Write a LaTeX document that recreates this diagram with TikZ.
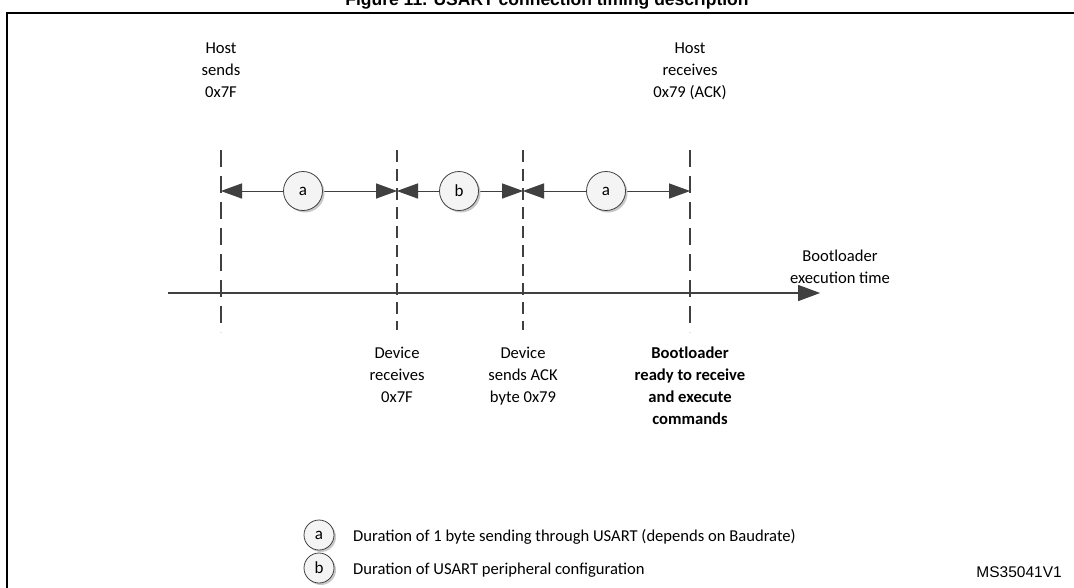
\documentclass[tikz,border=0pt]{standalone}
\usepackage{fontspec}
\setmainfont{Carlito}
\newfontfamily\arialfont{Liberation Sans}
\usetikzlibrary{arrows.meta,shadows}
\definecolor{dk}{HTML}{404040}
\definecolor{sh}{HTML}{C8C8C8}
\definecolor{cfill}{HTML}{F4F4F4}
\begin{document}
\begin{tikzpicture}[x=1pt,y=-1pt,
  lbl/.style={align=center,font=\fontsize{16.6}{22}\selectfont,inner sep=0pt,anchor=base},
  blbl/.style={lbl,font=\fontsize{16.6}{22}\selectfont\bfseries},
  vline/.style={draw=dk,line width=2pt,dash pattern=on 17pt off 9pt},
  vlinefine/.style={draw=dk,line width=2pt,dash pattern=on 12pt off 7pt},
  vshadow/.style={draw=sh,line width=2pt},
  dim/.style={draw=dk,line width=1pt,{Triangle[length=21pt,width=15pt]}-{Triangle[length=21pt,width=15pt]}},
  dimshadow/.style={draw=sh,line width=1pt,{Triangle[length=21pt,width=15pt]}-{Triangle[length=21pt,width=15pt]}},
  axis/.style={draw=dk,line width=1.3pt,-{Triangle[length=22pt,width=16pt]}},
  axisshadow/.style={draw=sh,line width=1.3pt,-{Triangle[length=22pt,width=16pt]}},
  circ/.style={circle,draw=dk,fill=cfill,line width=0.8pt,minimum size=39pt,inner sep=0pt,
     font=\fontsize{17}{19}\selectfont,
     drop shadow={shadow xshift=2pt,shadow yshift=-2pt,fill=sh,opacity=1}},
  lcirc/.style={circ,minimum size=30pt}]
\useasboundingbox (0,0) rectangle (1074,587);
% title and frame
\node[font=\arialfont\bfseries\fontsize{17.5}{20}\selectfont,anchor=base,inner sep=0pt] (title) at (547,5) {Figure 11. USART connection timing description};
\draw[line width=2pt] (7,13) rectangle (1090,610);
% time marks
\coordinate (m1t) at (221,150); \coordinate (m1b) at (221,332);
\coordinate (m2t) at (397,150); \coordinate (m2b) at (397,330);
\coordinate (m3t) at (523,150); \coordinate (m3b) at (523,330);
\coordinate (m4t) at (690,150); \coordinate (m4b) at (690,332);
\coordinate (d1) at (221,191); \coordinate (d2) at (397,191);
\coordinate (d3) at (523,191); \coordinate (d4) at (690,191);
\coordinate (ax0) at (168,293); \coordinate (ax1) at (820,293);
% shadows
\begin{scope}[shift={(3,3)}]
  \draw[vshadow,dash pattern=on 17pt off 9pt] (m1t) -- (m1b);
  \draw[vshadow,dash pattern=on 12pt off 7pt] (m2t) -- (m2b);
  \draw[vshadow,dash pattern=on 12pt off 7pt] (m3t) -- (m3b);
  \draw[vshadow,dash pattern=on 17pt off 9pt] (m4t) -- (m4b);
  \draw[axisshadow] (ax0) -- (ax1);
\end{scope}
\begin{scope}[shift={(2,3)}]
  \draw[dimshadow] (d1) -- (d2);
  \draw[dimshadow] (d2) -- (d3);
  \draw[dimshadow] (d3) -- (d4);
\end{scope}
% main lines
\draw[vline] (m1t) -- (m1b);
\draw[vlinefine] (m2t) -- (m2b);
\draw[vlinefine] (m3t) -- (m3b);
\draw[vline] (m4t) -- (m4b);
\draw[axis] (ax0) -- (ax1);
\draw[dim] (d1) -- (d2);
\draw[dim] (d2) -- (d3);
\draw[dim] (d3) -- (d4);
\node[circ] (ca1) at (303,191) {a};
\node[circ] (cb) at (459,191) {b};
\node[circ] (ca2) at (606,191) {a};
% labels (base anchor = baseline of the last line)
\node[lbl] (hs) at (221,97) {Host\\sends\\0x7F};
\node[lbl] (hr) at (690,97) {Host\\receives\\0x79 (ACK)};
\node[lbl] (bet) at (840,283) {Bootloader\\execution time};
\node[lbl] (dr) at (397,402) {Device\\receives\\0x7F};
\node[lbl] (ds) at (523,402) {Device\\sends ACK\\byte 0x79};
\node[blbl] (br) at (690,424) {Bootloader\\ready to receive\\and execute\\commands};
% legend
\node[lcirc] (la) at (319,535) {a};
\node[lcirc] (lb) at (319,568) {b};
\node[lbl,anchor=base west] (lta) at (353,541) {Duration of 1 byte sending through USART (depends on Baudrate)};
\node[lbl,anchor=base west] (ltb) at (353,574) {Duration of USART peripheral configuration};
\node[font=\arialfont\fontsize{15.5}{18}\selectfont,anchor=base east,inner sep=0pt] (ms) at (1062,577) {MS35041V1};
\end{tikzpicture}
\end{document}
